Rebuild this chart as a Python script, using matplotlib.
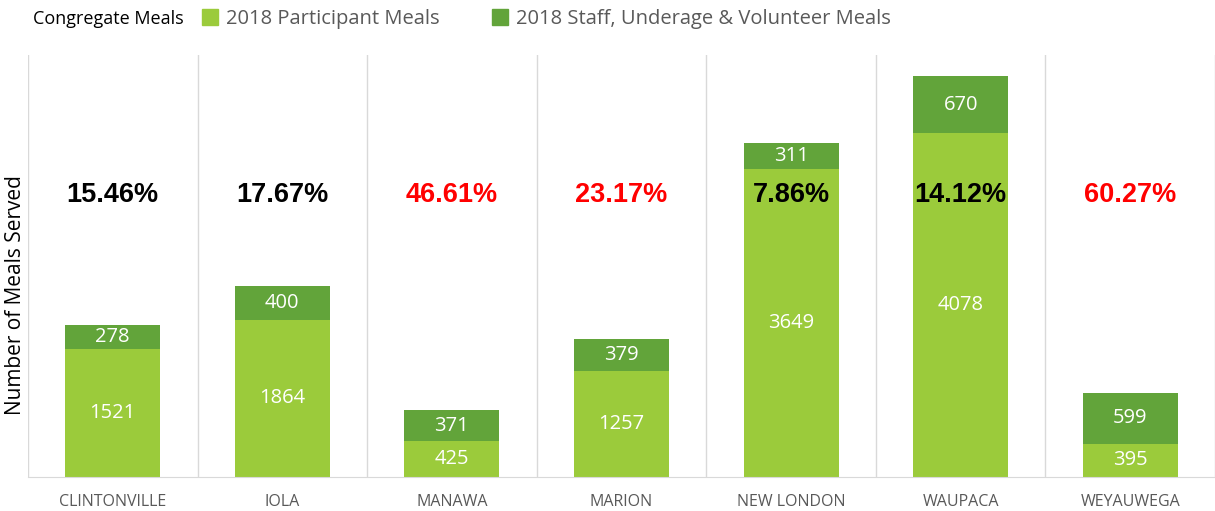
import numpy as np
import matplotlib.pyplot as plt
from matplotlib.patches import Patch

sites = ["CLINTONVILLE", "IOLA", "MANAWA", "MARION", "NEW LONDON", "WAUPACA", "WEYAUWEGA"]
participant = [1521, 1864, 425, 1257, 3649, 4078, 395]
staff = [278, 400, 371, 379, 311, 670, 599]
share = [15.46, 17.67, 46.61, 23.17, 7.86, 14.12, 60.27]

light = "#9BCB3B"
dark = "#62A43A"
grey_txt = "#595959"

fig = plt.figure(figsize=(12.15, 5.11), dpi=100)
ax = fig.add_axes([0.023, 0.0665, 0.977, 0.8255])

x = np.arange(len(sites))
ax.bar(x, participant, width=0.56, color=light, zorder=2)
ax.bar(x, staff, width=0.56, bottom=participant, color=dark, zorder=2)

for i in range(len(sites)):
    ax.text(x[i], participant[i] / 2, str(participant[i]), ha="center", va="center",
            color="white", fontsize=14.5, family="Open Sans", zorder=3)
    ax.text(x[i], participant[i] + staff[i] / 2, str(staff[i]), ha="center", va="center",
            color="white", fontsize=14.5, family="Open Sans", zorder=3)
    col = "red" if share[i] > 20 else "black"
    ax.text(x[i], 3340, f"{share[i]:.2f}%", ha="center", va="center", color=col,
            fontsize=19.5, fontweight="bold", family="Liberation Sans", zorder=3)

ax.set_xlim(-0.5, len(sites) - 0.5)
ax.set_ylim(0, 5000)
ax.set_xticks(x)
ax.set_xticklabels(sites, family="Open Sans", fontsize=11.5, color=grey_txt)
ax.tick_params(axis="x", length=0, pad=12)
ax.set_yticks([])
for b in np.arange(-0.5, len(sites), 1.0):
    ax.axvline(b, color="#d9d9d9", lw=1, zorder=1)
for s in ["top", "right", "left"]:
    ax.spines[s].set_visible(False)
ax.spines["bottom"].set_color("#d9d9d9")
ax.set_ylabel("Number of Meals Served", family="Open Sans", fontsize=15)
ax.yaxis.set_label_coords(-0.002, 0.431)

fig.text(33 / 1215, 1 - 19 / 511, "Congregate Meals", family="Open Sans", fontsize=13,
         color="black", va="center", ha="left")
handles = [Patch(color=light), Patch(color=dark)]
fig.legend(handles, ["2018 Participant Meals", "2018 Staff, Underage & Volunteer Meals"],
           loc="center left", bbox_to_anchor=(202 / 1215, 1 - 19 / 511), ncol=2, frameon=False,
           prop={"family": "Open Sans", "size": 14.5}, labelcolor=grey_txt,
           handlelength=0.8, handleheight=0.8, handletextpad=0.4, columnspacing=2.6,
           borderaxespad=0, borderpad=0)

fig.savefig("out.png", dpi=100)
